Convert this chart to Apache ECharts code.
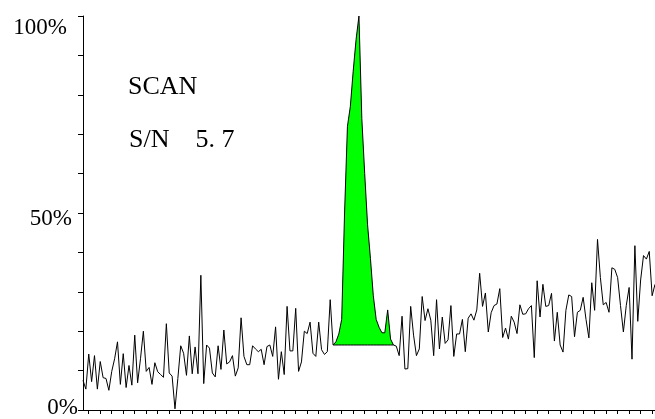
<!DOCTYPE html>
<html>
<head>
<meta charset="utf-8">
<script src="https://cdn.jsdelivr.net/npm/echarts@6/dist/echarts.min.js"></script>
<style>
  html, body { margin: 0; padding: 0; background: #fff; }
  #main { width: 655px; height: 419px; }
</style>
</head>
<body>
<div id="main"></div>
<script>
// intensity (%) for each scan
var intensity = [
  7.5, 5.3, 14.2, 7.2, 13.8, 5.3, 12.3, 8.2, 8, 5,
  9.8, 13, 17.3, 6.5, 14.3, 5.7, 11.3, 6.3, 19, 6.9,
  13, 20, 9.8, 10.8, 6.5, 12, 9.7, 9, 8.3, 21.9,
  9.4, 8.6, 0.3, 8, 16.3, 14.4, 8.8, 18.8, 9.2, 16,
  9.2, 34.2, 6.7, 16.5, 15.7, 9.4, 8.4, 16.3, 10.3, 20.3,
  11.7, 12.2, 13.8, 8.6, 10.7, 23.4, 13.6, 11.5, 11.5, 16.3,
  15.5, 14.8, 15.4, 11.5, 16.1, 16.5, 13.6, 21.1, 7.8, 14.8,
  9, 26.3, 15, 15, 25.8, 9.8, 12.2, 20, 19.4, 22.3,
  14.4, 13.6, 22.3, 15.3, 14.1, 14.8, 28, 16.5, 17.3, 19.3,
  23, 50, 72, 77, 86, 94, 100, 74, 60, 47,
  38.5, 29, 23, 21, 19.6, 19.6, 25.4, 18, 16.5, 16.2,
  13.8, 23.8, 10.4, 10.5, 26.3, 19, 13.8, 15.5, 28.8, 22.7,
  25.7, 22.8, 13.8, 28, 15.5, 23.6, 16.9, 17.8, 26.5, 13.6,
  19.3, 19.3, 23, 14.8, 23.3, 24.4, 22.8, 25.4, 34.7, 26.3,
  29.7, 19.8, 24.7, 26.5, 26.9, 30.8, 18.4, 20.8, 18, 23.8,
  22.3, 19.4, 26.7, 24.3, 24.4, 25.7, 26.5, 13.3, 32.8, 23.6,
  31.9, 26.3, 26.5, 29.6, 17.5, 24.8, 16.5, 14.7, 25.3, 29.2,
  28.8, 18.6, 24.8, 25.3, 28.6, 23, 18.3, 32.3, 25.3, 43.3,
  33.6, 26.7, 27.3, 24.8, 36.1, 35.7, 33.6, 26.5, 19.8, 26.5,
  31.1, 12.9, 41.7, 22.5, 33, 39.2, 38.3, 40.25, 29, 31.9
];
// integrated peak: first/last scan and the baseline it sits on
var peakStart = 87;
var peakEnd = 108;
var peakBase = 16.5;
var yLabels = [0, 50, 100];
var scanText = 'SCAN';
var snText = 'S/N    5. 7';

var scans = [];
var baseData = [];
var peakData = [];
for (var i = 0; i < intensity.length; i++) {
    scans.push(i + 1);
    var inPeak = i >= peakStart && i <= peakEnd;
    baseData.push(inPeak ? peakBase : null);
    peakData.push(inPeak ? +(intensity[i] - peakBase).toFixed(2) : null);
}

var serif = '"Liberation Serif", "DejaVu Serif", serif';

var myChart = echarts.init(document.getElementById('main'));
var option = {
    animation: false,
    backgroundColor: '#ffffff',
    grid: {
        left: 83,
        right: 0,
        top: 16,
        bottom: 3
    },
    graphic: [
        {
            type: 'text',
            left: 128,
            top: 74,
            style: { text: scanText, font: '26px ' + serif, fill: '#000' }
        },
        {
            type: 'text',
            left: 129,
            top: 127,
            style: { text: snText, font: '26px ' + serif, fill: '#000' }
        }
    ],
    xAxis: {
        type: 'category',
        data: scans,
        boundaryGap: false,
        axisLine: { lineStyle: { color: '#000', width: 1 } },
        axisTick: {
            length: 4,
            interval: function (index) { return index % 4 === 2; },
            lineStyle: { color: '#000' }
        },
        axisLabel: { show: false },
        splitLine: { show: false }
    },
    yAxis: {
        type: 'value',
        min: 0,
        max: 100,
        interval: 10,
        axisLine: { show: true, lineStyle: { color: '#000', width: 1 } },
        axisTick: { show: true, length: 5, lineStyle: { color: '#000' } },
        splitLine: { show: false },
        axisLabel: {
            margin: 5,
            color: '#000',
            fontFamily: serif,
            fontSize: 23,
            formatter: function (v) {
                if (yLabels.indexOf(v) < 0) return '';
                if (v === 100) return '{top|' + v + '%}';
                if (v === 50) return '{mid|' + v + '%}';
                return '{bot|' + v + '%}';
            },
            rich: {
                top: { fontFamily: serif, fontSize: 23, color: '#000', padding: [24, 11, 0, 0] },
                mid: { fontFamily: serif, fontSize: 23, color: '#000', padding: [12, 6, 0, 0] },
                bot: { fontFamily: serif, fontSize: 23, color: '#000', padding: [0, 0, 5, 0] }
            }
        }
    },
    series: [
        {
            name: 'base',
            type: 'line',
            stack: 'peak',
            data: baseData,
            symbol: 'none',
            lineStyle: { color: '#000', width: 1 },
            z: 2
        },
        {
            name: 'peak',
            type: 'line',
            stack: 'peak',
            data: peakData,
            symbol: 'none',
            lineStyle: { width: 0 },
            areaStyle: { color: '#00ff00', opacity: 1 },
            z: 1
        },
        {
            name: 'trace',
            type: 'line',
            data: intensity,
            symbol: 'none',
            lineStyle: { color: '#000', width: 1 },
            z: 3
        }
    ]
};
myChart.setOption(option);
</script>
</body>
</html>
